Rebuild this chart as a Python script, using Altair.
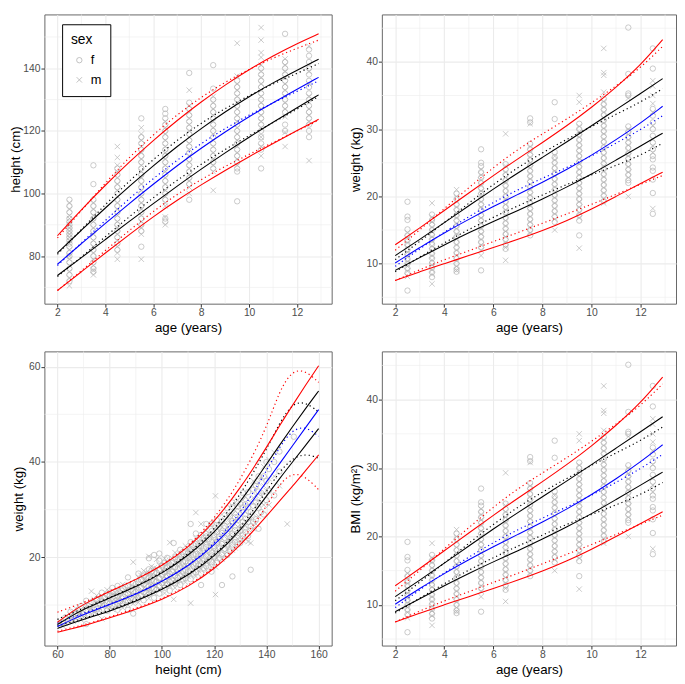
import altair as alt
import pandas as pd

FONT = "Liberation Sans"
PT_GRAY = "#B3B3B3"
CROSS = "M-1,-1L1,1M-1,1L1,-1"

# ---------------- points: age groups ----------------
AGE_GROUPS = [2.5, 3.5, 4.5, 5.5, 6.5, 7.5, 8.5, 9.5, 10.5, 11.5, 12.5]

HT_F = [
    [72, 74, 76, 78, 80, 81, 83, 84, 85, 86, 87, 88, 89, 90, 91, 92, 94, 96, 98],
    [75, 76, 78, 80, 82, 84, 86, 88, 90, 92, 94, 96, 98, 103, 109],
    [82, 84, 86, 88, 90, 92, 94, 96, 98, 100, 102, 104, 106, 108],
    [83, 88, 90, 92, 94, 96, 98, 100, 102, 104, 106, 108, 110, 112, 114, 116, 118, 124],
    [91, 92, 98, 100, 102, 104, 106, 108, 110, 112, 114, 116, 118, 120, 122, 124, 125.5, 127],
    [98, 103, 105, 107, 109, 111, 113, 115, 117, 119, 121, 123, 125, 127, 129, 138.5],
    [108, 110, 112, 114, 116, 118, 120, 122, 124, 126, 128, 130, 133.5, 141],
    [97.5, 107, 108, 110, 112, 114, 116, 118, 120, 122, 124, 126, 128, 130, 132, 134, 136],
    [108, 114, 116, 118, 120, 122, 124, 126, 128, 130, 132, 134, 136, 138, 140],
    [120, 122, 126, 128, 130, 132, 134, 136, 138, 140, 142, 151],
    [118, 120, 122, 124, 126, 128, 130, 132, 134, 136, 138, 140, 142, 144, 146],
]
HT_M = [
    [70.5, 73, 75, 77, 79, 80, 82, 84, 85, 86, 87, 88, 89, 90, 92, 93, 95, 97],
    [74, 75.5, 77, 79, 81, 83, 85, 87, 89, 91, 93, 95, 97],
    [79, 81, 83, 85, 87, 89, 91, 93, 95, 97, 99, 101, 103, 105, 107, 109, 111.5, 115],
    [79, 87, 89, 91, 93, 95, 97, 99, 101, 103, 105, 107, 109, 111, 113, 115, 117, 119, 121],
    [90, 92.5, 96, 97, 99, 101, 103, 105, 107, 109, 111, 113, 115, 117, 119, 121, 123],
    [100, 102, 104, 106, 108, 110, 112, 114, 116, 118, 120, 122, 124, 126, 128, 133],
    [101, 107, 109, 111, 113, 115, 117, 119, 121, 123, 125, 127, 129, 131],
    [109, 111, 113, 115, 117, 119, 121, 123, 125, 127, 129, 131, 133, 135, 137.5, 148],
    [112, 115, 118, 121, 123, 125, 127, 129, 131, 133, 135, 137, 139, 141, 143.5, 145, 149, 153],
    [115, 119.5, 124.5, 127, 129, 131, 133, 135, 137, 139, 141, 143],
    [110.5, 123, 125, 127, 131, 135, 139, 147],
]

WT_F = [
    [6, 8.6, 9.3, 10, 10.7, 11.4, 12.1, 12.8, 13.5, 14.2, 15.1, 16.5, 17, 19.2],
    [8, 8.7, 9.4, 10.1, 10.8, 11.5, 12.2, 12.9, 13.6, 14.3, 15, 15.8, 16.5, 17.3],
    [8.8, 9.2, 10, 10.8, 11.6, 12.4, 13.2, 14, 14.8, 15.6, 16.4, 17.2, 18, 18.8, 19.6, 20.4],
    [9, 12.4, 13.2, 14, 14.8, 15.6, 16.4, 17.2, 18, 18.8, 19.6, 20.4, 21.2, 22, 22.8, 23.6, 24.5, 25, 27],
    [12.2, 12.8, 13.6, 14.4, 15.2, 16, 16.8, 17.6, 18.4, 19.2, 20, 20.8, 21.6, 22.4, 23.2, 24, 24.8],
    [14.2, 15, 15.8, 16.6, 17.4, 18.2, 19, 19.8, 20.6, 21.4, 22.2, 23, 23.8, 24.6, 25.4, 26.2, 27, 27.8, 31, 31.6],
    [16.2, 17, 17.8, 18.6, 19.4, 20.2, 21, 21.8, 22.6, 23.4, 24.2, 25, 25.8, 26.6, 31.5, 34],
    [14.2, 16.4, 17.2, 18, 18.8, 19.6, 20.4, 21.2, 22, 22.8, 23.6, 24.4, 25.2, 26, 26.8, 27.6, 28.4, 29.2, 30, 30.8],
    [19.3, 20.1, 20.9, 21.7, 22.5, 23.3, 24.1, 24.9, 25.7, 26.5, 27.3, 28.1, 28.9, 29.7, 30.5, 31.3, 32.1, 32.9, 33.7, 34.5],
    [22, 22.4, 23.2, 24, 24.8, 25.6, 26.4, 27.2, 28, 28.8, 29.6, 30.4, 35, 35.3, 38.2, 45.1],
    [17.4, 20.5, 22.5, 23.8, 24.3, 25.5, 26, 27, 28, 29, 30, 31, 32, 33, 39, 42],
]
WT_M = [
    [8.1, 8.9, 9.6, 10.3, 11, 11.7, 12.4, 13.1, 13.8, 14.6],
    [7, 8.4, 9.1, 9.8, 10.5, 11.2, 11.9, 12.6, 13.3, 14, 14.7, 15.4, 16.2, 16.9, 19],
    [9, 9.6, 10.4, 11.2, 12, 12.8, 13.6, 14.4, 15.2, 16, 16.8, 17.6, 18.4, 19.2, 20, 21],
    [11.2, 12, 12.8, 13.6, 14.4, 15.2, 16, 16.8, 17.6, 18.4, 19.2, 20, 20.8, 21.6, 22.4, 23.2, 24],
    [10.5, 12.4, 13.2, 14, 14.8, 15.6, 16.4, 17.2, 18, 18.8, 19.6, 20.4, 21.2, 22, 22.8, 23.6, 24.5, 29.3],
    [14.6, 15.4, 16.2, 17, 17.8, 18.6, 19.4, 20.2, 21, 21.8, 22.6, 23.4, 24.2, 25, 25.8, 26.6, 27.4, 30.8],
    [15, 16.6, 17.4, 18.2, 19, 19.8, 20.6, 21.4, 22.2, 23, 23.8, 24.6, 25.4, 26],
    [12.3, 16.8, 17.6, 18.4, 19.2, 20, 20.8, 21.6, 22.4, 23.2, 24, 24.8, 25.6, 26.4, 27.2, 28, 28.8, 29.6, 30.4, 34, 35],
    [19, 19.7, 20.5, 21.3, 22.1, 22.9, 23.7, 24.5, 25.3, 26.1, 26.9, 27.7, 28.5, 29.3, 30.1, 30.9, 31.7, 32.5, 33.3, 34.1, 35.5, 38, 38.4, 42],
    [20, 22.8, 23.6, 24.4, 25.2, 26, 26.8, 27.6, 28.4, 29.2, 30, 34.6],
    [18.2, 26.5, 27.5, 28.5, 30.5, 32.5, 33.8, 35, 36.4, 37.2],
]

# ---------------- points: weight vs height (height, f weights, m weights) ----------------
BL_ROWS = [
    (61, [5.8], [6.5]), (62, [6.3], [5.6]), (63, [7.4], [6.2]), (64, [6.8], [7.4]),
    (65, [6.9, 8.6], [7.8]), (66, [7.6], [6.6, 8.3]), (67, [8.1], [7.2, 9.3]), (68, [7.3, 8.9], [8.0]),
    (69, [7.6, 9.8], [8.5, 6.9]), (70, [8.1], [7.4, 9.3]), (71, [6.0, 9.0, 10.9], [8.0, 10.2]),
    (72, [7.9, 9.8], [8.8]), (73, [8.4, 10.6], [9.4, 12.9]), (74, [9.0], [8.6, 10.1, 11.2]),
    (75, [9.2, 11.2], [8.2, 10.3, 12.0]), (76, [8.6, 10.4], [9.5, 11.5]),
    (77, [9.0, 10.8, 12.6], [7.1, 9.9, 11.8]), (78, [10.0, 11.5], [10.7]),
    (79, [8.8, 10.4, 12.2], [9.6, 11.3, 13.2]), (80, [10.3, 11.9], [9.4, 11.1, 12.8]),
    (81, [9.9, 11.6, 13.6], [9.1, 10.8, 12.5]), (82, [10.1, 11.9], [10.9, 12.7]),
    (83, [9.0, 10.5, 12.0, 14.0], [9.6, 11.2, 13.0]), (84, [10.8, 12.4], [10.0, 11.6, 13.3]),
    (85, [10.2, 11.8, 13.5], [9.4, 11.0, 12.6, 14.3]), (86, [10.6, 12.2, 13.8], [11.4, 13.0]),
    (87, [9.0, 10.9, 12.4, 14.1, 15.8], [10.0, 11.7, 13.2]), (88, [11.5, 13.2], [10.7, 12.4, 14.0]),
    (89, [8.2, 11.2, 12.9, 14.6], [10.3, 12.0, 13.7, 19.0]), (90, [11.0, 12.7, 14.4], [11.9, 13.5]),
    (91, [11.4, 13.1, 14.8, 16.6], [10.5, 12.3, 13.9, 15.8]), (92, [12.0, 13.6, 15.3], [12.8, 14.5, 16.2]),
    (93, [11.0, 12.7, 14.4, 16.2], [11.9, 13.5, 15.2, 17.2]), (94, [12.5, 14.1, 15.9], [13.3, 15.0, 16.8]),
    (95, [12.2, 13.9, 15.6, 17.5, 19.8], [11.4, 13.0, 14.7, 16.5, 20.2]),
    (96, [13.6, 15.3, 17.1], [12.8, 14.4, 16.2, 18.1]),
    (97, [11.5, 13.4, 15.0, 16.8, 20.5], [12.5, 14.2, 15.9, 17.8]),
    (98, [13.2, 14.9, 16.7], [14.0, 15.8, 17.6, 19.6]),
    (99, [12.4, 14.0, 15.6, 17.3, 19.3, 20.8], [13.2, 14.8, 16.4, 18.3]),
    (100, [14.6, 16.4, 18.3], [13.8, 15.5, 17.3]),
    (101, [13.6, 15.2, 16.9, 18.8], [12.5, 14.4, 16.0, 17.8, 19.8]),
    (102, [14.3, 16.1, 17.9, 19.9], [15.2, 17.0, 18.9]),
    (103, [13.0, 14.8, 16.5, 18.3], [14.0, 15.7, 17.4, 19.3, 23.1]),
    (104, [15.1, 16.9, 18.8], [14.2, 16.0, 17.8, 19.8]), (104.5, [23.0], [11.2]),
    (105, [14.6, 16.2, 18.0, 20.0], [13.6, 15.4, 17.1, 18.9, 21.0]),
    (106, [15.7, 17.5, 19.4], [14.8, 16.6, 18.5, 20.5]),
    (107, [14.2, 16.0, 17.7, 19.6, 21.6], [15.1, 16.8, 18.6, 20.6]),
    (108, [15.4, 17.2, 19.1, 21.1], [16.3, 18.2, 20.1]),
    (109, [15.7, 17.4, 19.2, 21.2], [14.8, 16.5, 18.3, 20.2, 22.4]),
    (110, [16.9, 18.8, 20.8], [16.0, 17.9, 19.8, 21.8]),
    (111, [15.4, 17.2, 19.0, 21.0, 23.2, 27.0], [10.4, 16.3, 18.1, 19.9, 22.0]),
    (112, [16.6, 18.5, 20.5, 22.6], [17.5, 19.5, 21.5]),
    (113, [16.9, 18.7, 20.7, 22.8, 25.0], [16.0, 17.8, 19.7, 21.7, 24.0, 29.4]),
    (114, [18.2, 20.2, 22.3], [17.2, 19.1, 21.2, 23.4]),
    (115, [14.2, 16.6, 18.5, 20.4, 22.4, 24.7], [17.5, 19.4, 21.4, 23.5, 27.0]),
    (116, [17.8, 19.8, 21.9, 24.1], [18.8, 20.9, 23.0]),
    (117, [18.2, 20.2, 22.2, 24.4, 27.0], [17.3, 19.2, 21.2, 23.3, 25.6]),
    (118, [19.5, 21.6, 23.8], [18.5, 20.5, 22.7, 25.0]),
    (119, [17.0, 19.0, 21.0, 23.2, 25.5, 27.0], [18.0, 20.0, 22.1, 24.3, 26.8]),
    (120, [20.2, 22.4, 24.7], [19.2, 21.3, 23.5, 25.9]), (120.5, [], [12.2, 18.0, 32.9]),
    (121, [18.8, 20.8, 23.0, 25.3, 27.8], [19.8, 21.9, 24.1, 26.5]),
    (122, [19.9, 22.1, 24.4, 26.9], [21.0, 23.2, 25.6]),
    (123, [14.2, 20.6, 22.8, 25.1, 27.6], [19.6, 21.7, 23.9, 26.3, 29.0]),
    (124, [21.8, 24.1, 26.6], [20.6, 22.9, 25.3, 27.9]),
    (125, [20.5, 22.7, 25.0, 27.5, 30.3], [21.6, 23.8, 26.2, 28.9]),
    (126, [21.2, 23.5, 26.0, 28.7], [22.3, 24.7, 27.3]),
    (127, [16.0, 22.7, 25.0, 27.6, 30.5, 31.5], [21.5, 23.8, 26.3, 29.0]),
    (128, [23.2, 25.7, 28.4], [22.0, 24.4, 27.0, 29.8]),
    (129, [22.7, 25.1, 27.8, 30.7], [23.9, 26.4, 29.2, 32.0]),
    (130, [23.0, 25.5, 28.3, 31.2], [24.2, 26.8, 29.7]),
    (131, [24.8, 27.5, 30.5, 33.5], [23.5, 26.1, 29.0, 32.0]),
    (132, [25.3, 28.1, 31.1], [24.0, 26.7, 29.6, 32.7]),
    (133, [24.5, 27.4, 30.5, 33.7], [25.9, 28.9, 32.1, 23.3]),
    (134, [17.4, 26.5, 29.5], [23.0, 28.0, 31.5]),
    (135, [27.5, 30.8, 34.2], [26.0, 29.1, 32.5, 36.0]),
    (136, [28.0, 31.5, 35.0], [27.0, 33.0]),
    (137, [26.0, 30.3, 33.8, 37.0], [28.6, 32.0, 35.6]),
    (138, [29.5, 33.5], [31.5, 36.5]),
    (139, [29.0, 33.0, 37.0], [31.0, 35.0, 39.0]),
    (140, [32.0, 36.0, 40.0], [34.0]),
    (141, [34.0, 38.5], [31.0, 36.5, 40.5]),
    (143, [33.0, 40.0], [37.0, 42.0]),
    (145, [38.0, 42.2], [35.0]),
    (148, [], [27.0]),
    (150.5, [45.3], []),
]

# ---------------- centile curves ----------------
CENTILES = ["c3", "c10", "c50", "c90", "c97"]
CURVE_COLORS = ["#FF0000", "#000000", "#0000FF", "#000000", "#FF0000"]

AGE_GRID = [2, 3, 4, 5, 6, 7, 8, 9, 10, 11, 12, 12.9]
HT_SOLID = {
    "c3":  [69.0, 75.0, 81.0, 86.9, 92.6, 97.9, 102.8, 107.4, 111.8, 116.0, 120.1, 123.7],
    "c10": [73.8, 79.5, 85.3, 91.1, 96.8, 102.4, 107.8, 113.0, 118.0, 122.8, 127.4, 131.5],
    "c50": [77.4, 84.0, 90.5, 96.8, 103.0, 108.9, 114.5, 119.7, 124.6, 129.0, 133.3, 137.1],
    "c90": [81.0, 88.3, 95.4, 102.3, 108.9, 115.1, 120.8, 126.1, 131.0, 135.4, 139.4, 142.9],
    "c97": [86.5, 94.9, 102.7, 110.1, 117.0, 123.4, 129.3, 134.7, 139.6, 144.0, 147.9, 151.0],
}
HT_DOT = {
    "c3":  [69.0, 75.3, 81.8, 88.2, 94.3, 99.8, 104.5, 108.7, 112.5, 116.3, 120.0, 123.4],
    "c10": [73.5, 79.7, 86.2, 92.6, 98.7, 104.3, 109.4, 114.1, 118.5, 122.7, 126.9, 131.0],
    "c50": [77.0, 84.2, 91.4, 98.4, 104.8, 110.7, 116.0, 120.8, 125.1, 129.0, 132.6, 136.0],
    "c90": [80.6, 88.5, 96.5, 104.0, 110.9, 117.1, 122.5, 127.2, 131.3, 135.0, 138.4, 141.5],
    "c97": [85.8, 94.5, 103.4, 111.6, 118.8, 125.2, 130.8, 135.6, 139.7, 143.3, 146.4, 149.0],
}
WT_SOLID = {
    "c3":  [7.5, 8.8, 10.0, 11.2, 12.4, 13.6, 14.9, 16.4, 18.1, 20.0, 21.9, 23.6],
    "c10": [9.0, 10.9, 12.8, 14.6, 16.3, 17.9, 19.6, 21.4, 23.3, 25.4, 27.5, 29.4],
    "c50": [10.1, 12.4, 14.6, 16.6, 18.5, 20.3, 22.1, 24.0, 26.1, 28.4, 30.9, 33.4],
    "c90": [11.2, 13.6, 16.1, 18.6, 21.1, 23.5, 25.8, 28.1, 30.5, 32.9, 35.3, 37.5],
    "c97": [12.8, 15.3, 17.9, 20.5, 23.1, 25.6, 28.0, 30.5, 33.2, 36.2, 39.5, 43.3],
}
WT_DOT = {
    "c3":  [7.5, 9.1, 10.6, 11.9, 13.3, 14.6, 16.0, 17.4, 18.8, 20.3, 21.8, 23.1],
    "c10": [8.8, 11.0, 13.1, 15.1, 16.9, 18.6, 20.2, 21.8, 23.2, 24.6, 26.1, 27.9],
    "c50": [9.6, 12.2, 14.7, 17.0, 19.1, 21.0, 22.7, 24.3, 26.0, 27.9, 29.9, 32.0],
    "c90": [10.6, 13.3, 16.1, 19.0, 21.8, 24.3, 26.5, 28.5, 30.4, 32.2, 34.0, 36.0],
    "c97": [12.0, 15.0, 18.2, 21.3, 24.3, 27.0, 29.3, 31.5, 33.9, 36.4, 39.1, 42.3],
}

HEIGHT_GRID = [60, 65, 70, 80, 90, 100, 110, 120, 130, 140, 145, 150, 155, 160]
BL_SOLID = {
    "c3":  [4.3, 5.0, 5.6, 7.3, 9.1, 11.1, 13.8, 17.5, 22.5, 28.6, 31.8, 34.9, 38.2, 41.5],
    "c10": [5.1, 6.1, 7.0, 8.7, 10.8, 13.2, 16.2, 20.1, 25.5, 32.8, 36.5, 40.0, 43.5, 47.0],
    "c50": [5.5, 6.8, 8.0, 10.1, 12.2, 14.9, 18.1, 22.4, 28.2, 35.8, 39.6, 43.4, 47.2, 51.0],
    "c90": [5.9, 7.6, 9.1, 11.5, 13.8, 16.6, 20.3, 25.1, 31.5, 39.5, 43.5, 47.4, 51.2, 54.9],
    "c97": [6.4, 8.4, 10.2, 12.9, 15.3, 18.2, 22.0, 27.4, 34.4, 43.0, 47.6, 51.9, 56.1, 60.2],
}
BL_DOT = {
    "c3":  [4.5, 5.2, 5.8, 7.5, 9.3, 11.3, 14.0, 17.8, 23.0, 30.5, 35.5, 37.8, 37.0, 34.2],
    "c10": [5.6, 6.4, 7.2, 8.9, 11.0, 13.4, 16.4, 20.4, 26.0, 33.8, 38.0, 40.8, 41.8, 40.8],
    "c50": [6.2, 7.3, 8.3, 10.2, 12.3, 15.0, 18.1, 22.8, 29.2, 38.0, 43.2, 46.8, 47.5, 45.4],
    "c90": [7.0, 8.2, 9.3, 11.6, 13.9, 16.8, 20.6, 25.7, 33.0, 42.5, 48.2, 52.4, 52.6, 50.5],
    "c97": [8.5, 9.5, 10.5, 12.9, 15.3, 18.3, 22.2, 28.0, 36.0, 47.0, 55.0, 59.3, 59.2, 56.7],
}

AGE_TICKS = [2, 4, 6, 8, 10, 12]
AGE_MINOR = [3, 5, 7, 9, 11, 13]
HT_TICKS = [80, 100, 120, 140]
HT_MINOR = [70, 90, 110, 130, 150]
WT_TICKS = [10, 20, 30, 40]
WT_MINOR = [5, 15, 25, 35, 45]
HX_TICKS = [60, 80, 100, 120, 140, 160]
HX_MINOR = [70, 90, 110, 130, 150]
BW_TICKS = [20, 40, 60]
BW_MINOR = [10, 30, 50]


def points_by_age(f_lists, m_lists):
    rows = []
    for a, fl, ml in zip(AGE_GROUPS, f_lists, m_lists):
        rows += [{"x": a, "y": v, "sex": "f"} for v in fl]
        rows += [{"x": a, "y": v, "sex": "m"} for v in ml]
    return pd.DataFrame(rows)


def points_bl():
    rows = []
    for h, fl, ml in BL_ROWS:
        rows += [{"x": h, "y": v, "sex": "f"} for v in fl]
        rows += [{"x": h, "y": v, "sex": "m"} for v in ml]
    return pd.DataFrame(rows)


def curves(grid, table):
    rows = []
    for c in CENTILES:
        for x, y in zip(grid, table[c]):
            rows.append({"x": x, "y": y, "curve": c})
    return pd.DataFrame(rows)


def panel(pts, solid, dotted, xdom, ydom, xticks, yticks, xminor, yminor,
          xtitle, ytitle, w, h, yext, legend=False):
    xs = alt.Scale(domain=xdom, nice=False, zero=False)
    ys = alt.Scale(domain=ydom, nice=False, zero=False)
    xax = alt.Axis(values=xticks, title=xtitle, minExtent=15, maxExtent=15, titlePadding=2)
    yax = alt.Axis(values=yticks, title=ytitle, minExtent=yext, maxExtent=yext, titlePadding=1)
    X = alt.X("x:Q", scale=xs, axis=xax)
    Y = alt.Y("y:Q", scale=ys, axis=yax)
    vgrid = alt.Chart(pd.DataFrame({"x": xminor})).mark_rule(
        color="#EDEDED", strokeWidth=0.6).encode(x=X)
    hgrid = alt.Chart(pd.DataFrame({"y": yminor})).mark_rule(
        color="#EDEDED", strokeWidth=0.6).encode(y=Y)
    shape_kw = dict(scale=alt.Scale(domain=["f", "m"], range=["circle", CROSS]))
    if legend:
        shape_kw["legend"] = alt.Legend(
            orient="none", legendX=18, legendY=10, title="sex",
            titleFontSize=14, titleFontWeight="normal", titleColor="black", titleFont=FONT,
            labelFontSize=13, labelColor="black", labelFont=FONT,
            symbolSize=30, symbolStrokeColor=PT_GRAY, symbolStrokeWidth=0.8,
            symbolOffset=2, labelOffset=5, strokeColor="black", fillColor="white",
            padding=9, rowPadding=6, titlePadding=7)
    else:
        shape_kw["legend"] = None
    pts_layer = alt.Chart(pts).mark_point(
        filled=False, size=30, strokeWidth=0.7, color=PT_GRAY, opacity=1
    ).encode(x=X, y=Y, shape=alt.Shape("sex:N", **shape_kw))
    color = alt.Color("curve:N", scale=alt.Scale(domain=CENTILES, range=CURVE_COLORS), legend=None)
    dot_layer = alt.Chart(dotted).mark_line(
        strokeDash=[1.2, 3], strokeWidth=1.2, interpolate="basis"
    ).encode(x=X, y=Y, color=color)
    solid_layer = alt.Chart(solid).mark_line(
        strokeWidth=1.1, interpolate="basis"
    ).encode(x=X, y=Y, color=color)
    return alt.layer(vgrid, hgrid, pts_layer, dot_layer, solid_layer).properties(width=w, height=h)


age_dom = [1.455, 13.445]
tl = panel(points_by_age(HT_F, HT_M), curves(AGE_GRID, HT_SOLID), curves(AGE_GRID, HT_DOT),
           age_dom, [64.8, 157.2], AGE_TICKS, HT_TICKS, AGE_MINOR, HT_MINOR,
           "age (years)", "height (cm)", 292, 294, 21, legend=True)
tr = panel(points_by_age(WT_F, WT_M), curves(AGE_GRID, WT_SOLID), curves(AGE_GRID, WT_DOT),
           age_dom, [4.05, 47.05], AGE_TICKS, WT_TICKS, AGE_MINOR, WT_MINOR,
           "age (years)", "weight (kg)", 299, 294, 19)
bl = panel(points_bl(), curves(HEIGHT_GRID, BL_SOLID), curves(HEIGHT_GRID, BL_DOT),
           [55, 165], [1.5, 63.2], HX_TICKS, BW_TICKS, HX_MINOR, BW_MINOR,
           "height (cm)", "weight (kg)", 292, 299, 18)
br = panel(points_by_age(WT_F, WT_M), curves(AGE_GRID, WT_SOLID), curves(AGE_GRID, WT_DOT),
           age_dom, [4.05, 47.05], AGE_TICKS, WT_TICKS, AGE_MINOR, WT_MINOR,
           "age (years)", "BMI (kg/m²)", 299, 299, 19)

chart = alt.concat(
    tl, tr, bl, br, columns=2, align="none", spacing={"row": 16.5, "column": 15}
).resolve_scale(
    shape="independent", color="independent"
).properties(padding=0).configure(font=FONT).configure_view(
    stroke="#666666", strokeWidth=1
).configure_axis(
    domain=False, tickColor="#333333", tickSize=3.5, tickWidth=1,
    labelColor="#4D4D4D", labelFontSize=10.5, labelPadding=1, labelFont=FONT,
    titleFontSize=13.5, titleFontWeight="normal", titleColor="black", titleFont=FONT,
    gridColor="#EBEBEB", gridWidth=1.1, labelFlush=False
)

chart.save("out.html", embed_options={"renderer": "svg", "actions": False})
